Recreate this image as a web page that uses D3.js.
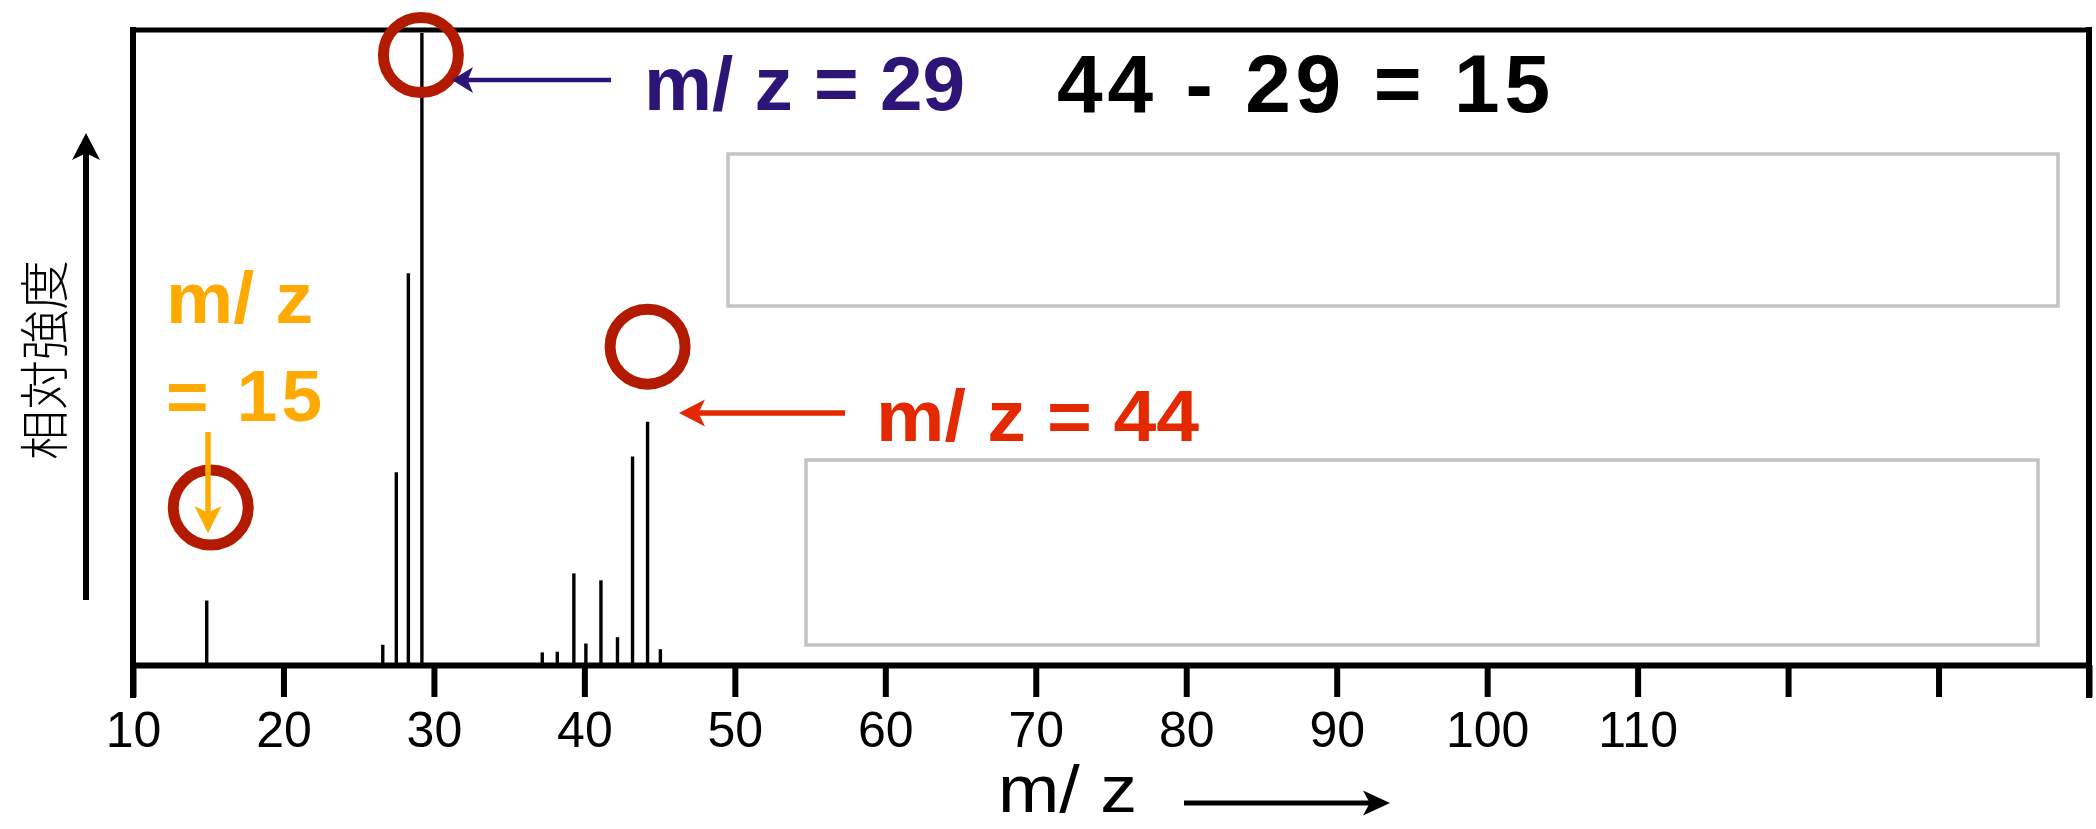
<!DOCTYPE html>
<html>
<head>
<meta charset="utf-8">
<script src="https://cdn.jsdelivr.net/npm/d3@7"></script>
<style>
  html, body { margin: 0; padding: 0; background: #fff; }
  svg { display: block; }
</style>
</head>
<body>
<svg id="chart" width="2096" height="829"></svg>
<script>
// ---- data (peak positions) ----
const mzValues = [14.9, 26.6, 27.5, 28.3, 29.2, 37.2, 38.2, 39.3, 40.1, 41.1, 42.2, 43.2, 44.2, 45.05];
const intensities = [10.2, 3.2, 30.5, 62, 100, 2.0, 2.1, 14.5, 3.4, 13.4, 4.4, 33, 38.5, 2.5];
const tickValues = [10, 20, 30, 40, 50, 60, 70, 80, 90, 100, 110, 120, 130, 140];
const labeledTicks = [10, 20, 30, 40, 50, 60, 70, 80, 90, 100, 110];
const highlightPeaks = [29.2, 44.2, 14.9];
const xTitle = "m/ z";
const yTitle = "相対強度";
const eqText = "44 - 29 = 15";

(function () {
// ---- layout ----
const svg = d3.select("#chart");
const pLeft = 133, pRight = 2089, pTop = 30, pBase = 665, peakTop = 33;
const x = d3.scaleLinear().domain([10, 140]).range([pLeft, pRight]);
const y = d3.scaleLinear().domain([0, 100]).range([pBase, peakTop]);
const peaks = mzValues.map((m, i) => ({ m, v: intensities[i] }));

const fontLat = "'Liberation Sans', Arial, Helvetica, sans-serif";

// gray placeholder boxes
svg.append("rect").attr("x", 728).attr("y", 154).attr("width", 1330).attr("height", 152)
  .attr("fill", "none").attr("stroke", "#c3c3c3").attr("stroke-width", 3.5);
svg.append("rect").attr("x", 806).attr("y", 460).attr("width", 1232).attr("height", 185)
  .attr("fill", "none").attr("stroke", "#c3c3c3").attr("stroke-width", 3.5);

// frame
const frame = svg.append("g").attr("stroke", "#000").attr("stroke-linecap", "square");
frame.append("line").attr("x1", pLeft).attr("x2", pRight).attr("y1", pTop).attr("y2", pTop).attr("stroke-width", 5);
frame.append("line").attr("x1", pLeft).attr("x2", pLeft).attr("y1", pTop).attr("y2", pBase + 30).attr("stroke-width", 6);
frame.append("line").attr("x1", pRight).attr("x2", pRight).attr("y1", pTop).attr("y2", pBase + 30).attr("stroke-width", 6);

// peaks
svg.append("g").selectAll("line").data(peaks).join("line")
  .attr("x1", d => x(d.m)).attr("x2", d => x(d.m))
  .attr("y1", y(0)).attr("y2", d => y(d.v))
  .attr("stroke", "#000").attr("stroke-width", 3.4);

// x axis
const axis = d3.axisBottom(x).tickValues(tickValues).tickSize(32).tickSizeOuter(0).tickPadding(14)
  .tickFormat(d => labeledTicks.includes(d) ? d : "");
const ax = svg.append("g").attr("transform", `translate(0,${pBase})`).call(axis);
ax.select(".domain").attr("stroke", "#000").attr("stroke-width", 6);
ax.selectAll(".tick line").attr("stroke", "#000").attr("stroke-width", 6);
ax.selectAll(".tick text").attr("fill", "#000").style("font-family", fontLat).style("font-size", "50px");

// arrow helper
function arrowHead(g, tipX, tipY, dir, len, wid, color) {
  let pts;
  const n = len * 0.25;
  if (dir === "left") pts = [[tipX, tipY], [tipX + len, tipY - wid / 2], [tipX + len - n, tipY], [tipX + len, tipY + wid / 2]];
  if (dir === "right") pts = [[tipX, tipY], [tipX - len, tipY - wid / 2], [tipX - len + n, tipY], [tipX - len, tipY + wid / 2]];
  if (dir === "up") pts = [[tipX, tipY], [tipX - wid / 2, tipY + len], [tipX, tipY + len - n], [tipX + wid / 2, tipY + len]];
  if (dir === "down") pts = [[tipX, tipY], [tipX - wid / 2, tipY - len], [tipX, tipY - len + n], [tipX + wid / 2, tipY - len]];
  g.append("path").attr("d", "M" + pts.map(p => p.join(",")).join("L") + "Z").attr("fill", color);
}

// axis titles
svg.append("text").attr("x", 998).attr("y", 812).text(xTitle)
  .attr("textLength", 139).attr("lengthAdjust", "spacingAndGlyphs")
  .style("font-family", fontLat).style("font-size", "66px").attr("fill", "#000");
const ga = svg.append("g");
ga.append("line").attr("x1", 1184).attr("x2", 1370).attr("y1", 803).attr("y2", 803).attr("stroke", "#000").attr("stroke-width", 5);
arrowHead(ga, 1390, 803, "right", 27, 25, "#000");

svg.append("text").attr("transform", "translate(41,360) rotate(-90)")
  .attr("text-anchor", "middle").attr("dominant-baseline", "central").text(yTitle)
  .style("font-family", "'Noto Sans CJK JP', 'Noto Sans CJK SC', sans-serif").style("font-size", "50px")
  .style("font-weight", 300).attr("fill", "#000");
ga.append("line").attr("x1", 86).attr("x2", 86).attr("y1", 600).attr("y2", 150).attr("stroke", "#000").attr("stroke-width", 6);
arrowHead(ga, 86, 133, "up", 27, 28, "#000");

// highlight circles (offset from the peak top)
const circleDy = { 29.2: 22, 44.2: -75, 14.9: -93 };
const circleDx = { 29.2: -1, 44.2: 0, 14.9: 4 };
svg.append("g").selectAll("circle").data(peaks.filter(p => highlightPeaks.includes(p.m))).join("circle")
  .attr("cx", d => x(d.m) + circleDx[d.m])
  .attr("cy", d => y(d.v) + circleDy[d.m])
  .attr("r", 37.5).attr("fill", "none").attr("stroke", "#b31b00").attr("stroke-width", 11);

// annotations
const navy = "#2c1577", red = "#e42900", orange = "#ffaa00";
const ann = svg.append("g");
ann.append("line").attr("x1", 611).attr("x2", 468).attr("y1", 80).attr("y2", 80).attr("stroke", navy).attr("stroke-width", 4.5);
arrowHead(ann, 452, 80, "left", 21, 26, navy);
ann.append("text").attr("x", 644).attr("y", 110).text("m/ z = 29")
  .attr("textLength", 321).attr("lengthAdjust", "spacingAndGlyphs")
  .style("font-family", fontLat).style("font-weight", "bold").style("font-size", "76px").attr("fill", navy);

ann.append("text").attr("x", 1057).attr("y", 112).text(eqText)
  .attr("textLength", 493).attr("lengthAdjust", "spacing")
  .style("font-family", fontLat).style("font-weight", "bold").style("font-size", "82px").attr("fill", "#000");

ann.append("line").attr("x1", 845).attr("x2", 696).attr("y1", 413).attr("y2", 413).attr("stroke", red).attr("stroke-width", 5.5);
arrowHead(ann, 679, 413, "left", 26, 27, red);
ann.append("text").attr("x", 876).attr("y", 441).text("m/ z = 44")
  .attr("textLength", 323).attr("lengthAdjust", "spacingAndGlyphs")
  .style("font-family", fontLat).style("font-weight", "bold").style("font-size", "73px").attr("fill", red);

ann.append("text").attr("x", 166).attr("y", 323).text("m/ z")
  .attr("textLength", 147).attr("lengthAdjust", "spacingAndGlyphs")
  .style("font-family", fontLat).style("font-weight", "bold").style("font-size", "73px").attr("fill", orange);
ann.append("text").attr("x", 166).attr("y", 421).text("= 15")
  .attr("textLength", 156).attr("lengthAdjust", "spacing")
  .style("font-family", fontLat).style("font-weight", "bold").style("font-size", "73px").attr("fill", orange);
ann.append("line").attr("x1", 208).attr("x2", 208).attr("y1", 432).attr("y2", 515).attr("stroke", orange).attr("stroke-width", 5.5);
arrowHead(ann, 208, 533, "down", 27, 27, orange);
})();
</script>
</body>
</html>
